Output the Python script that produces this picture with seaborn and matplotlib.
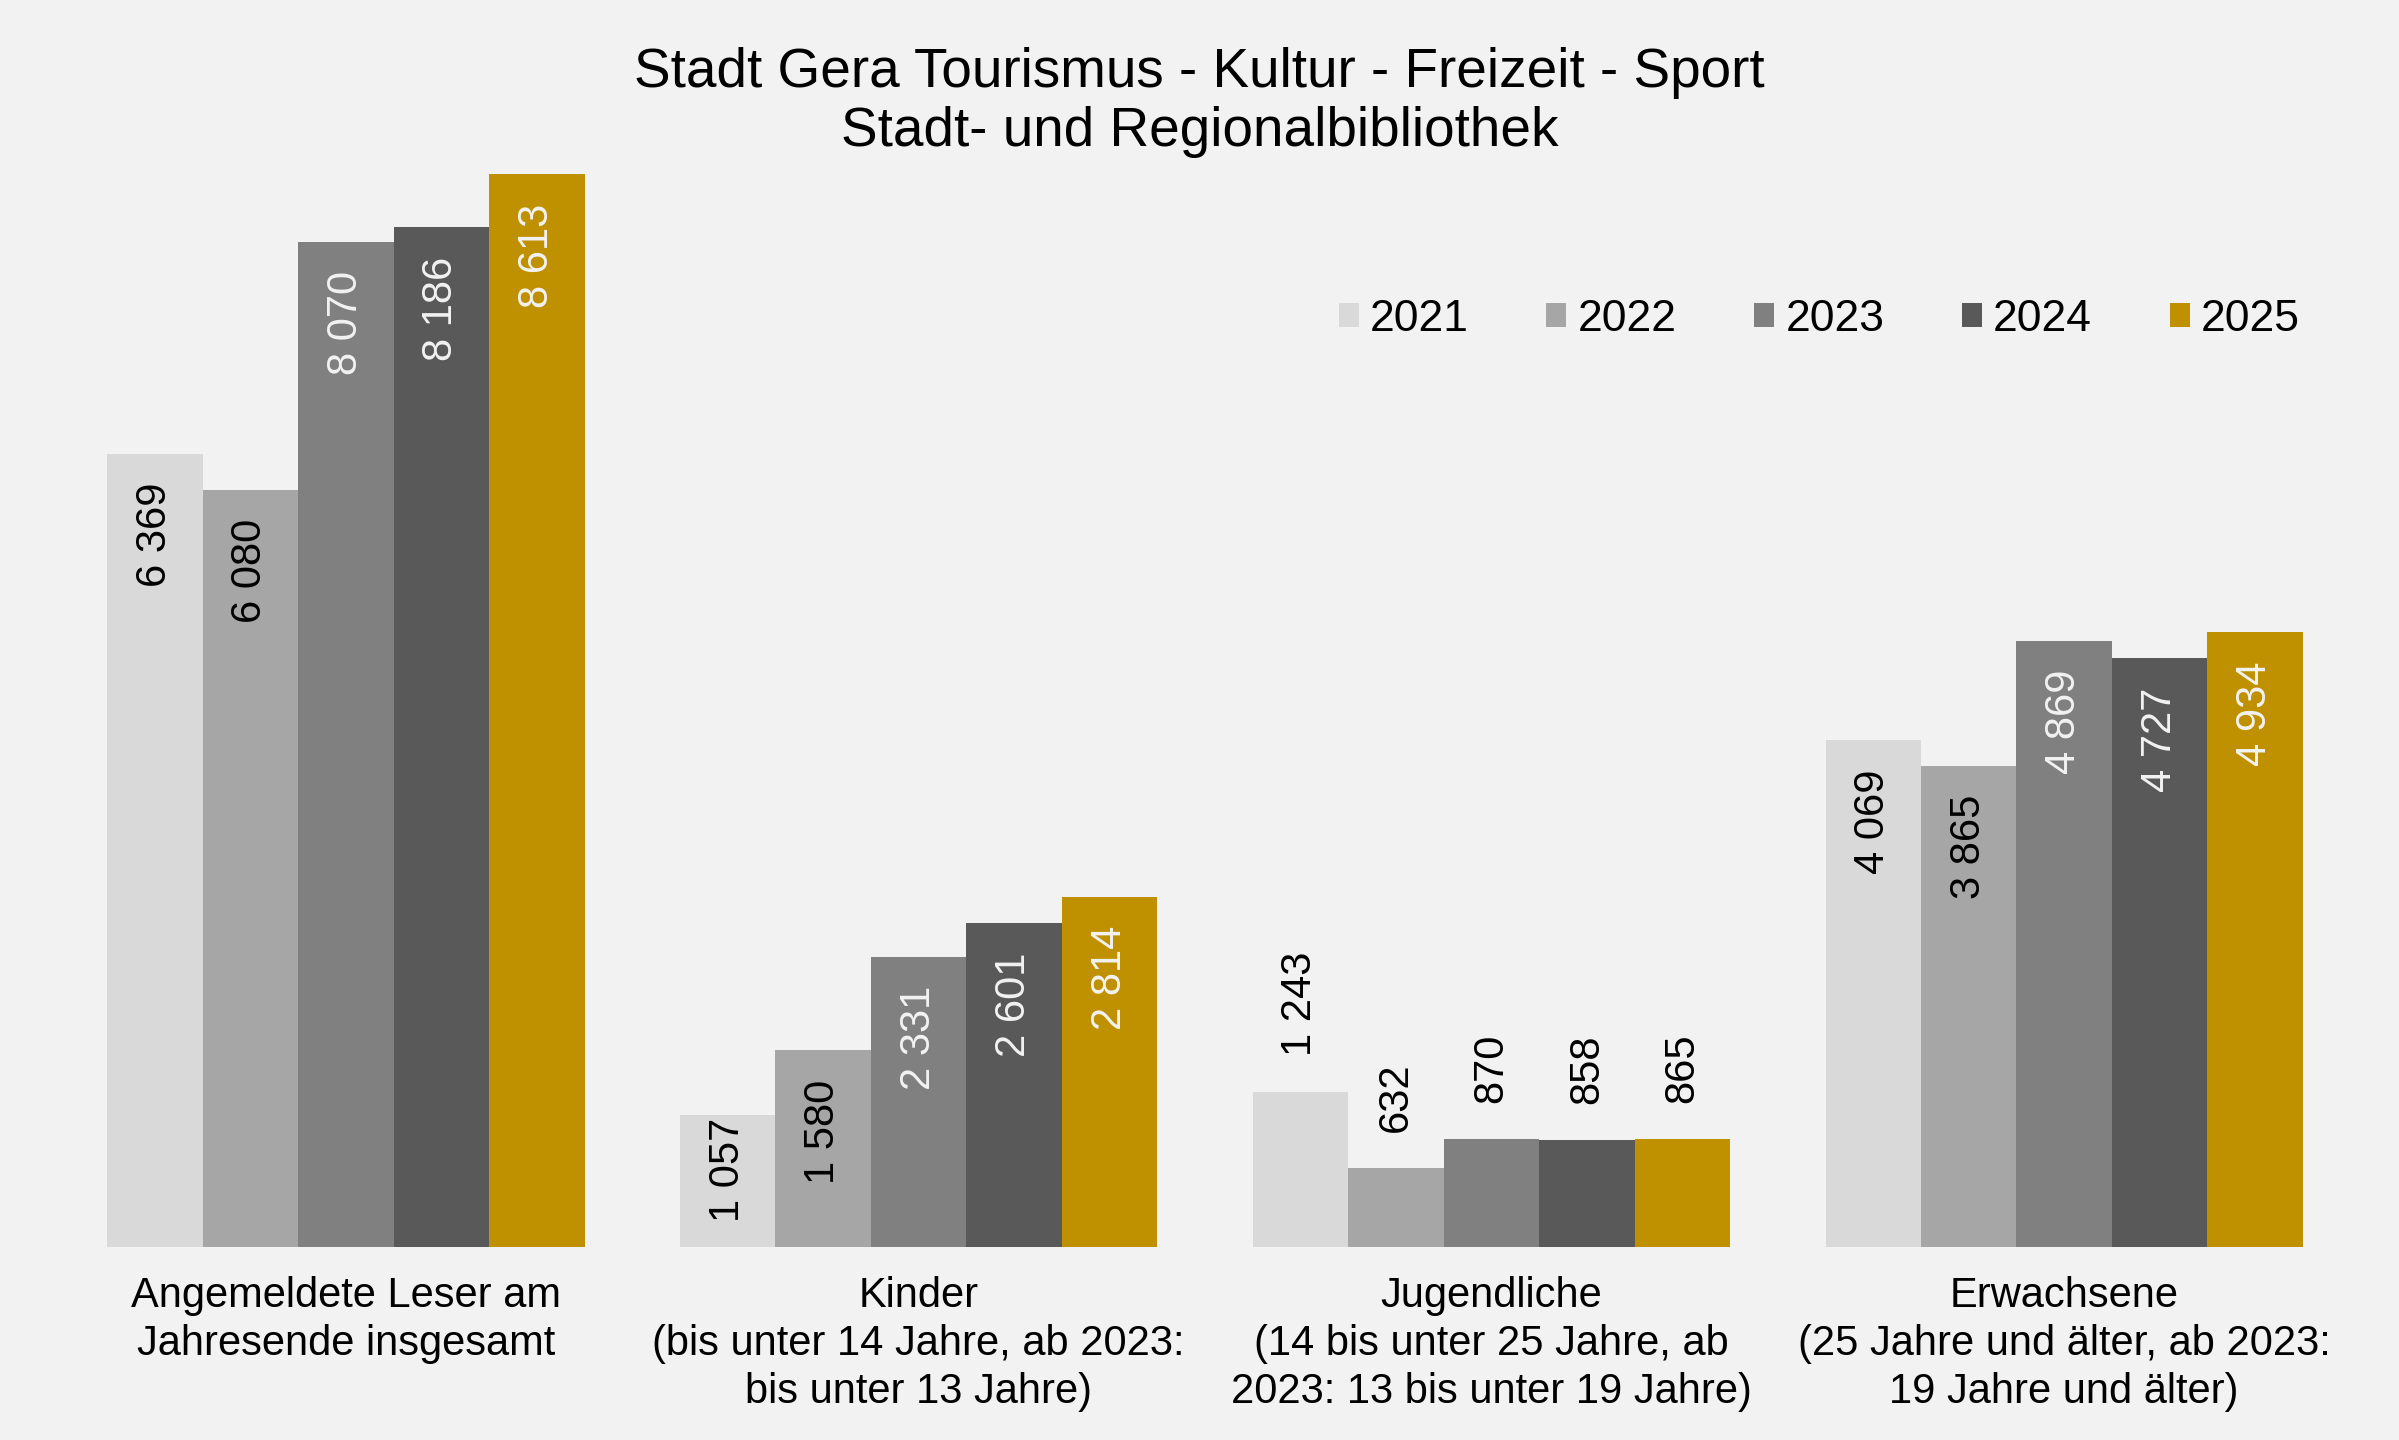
import pandas as pd
import matplotlib.pyplot as plt
import seaborn as sns

# data
categories = [
    "Angemeldete Leser am\nJahresende insgesamt",
    "Kinder\n(bis unter 14 Jahre, ab 2023:\nbis unter 13 Jahre)",
    "Jugendliche\n(14 bis unter 25 Jahre, ab\n2023: 13 bis unter 19 Jahre)",
    "Erwachsene\n(25 Jahre und älter, ab 2023:\n19 Jahre und älter)",
]
years = ["2021", "2022", "2023", "2024", "2025"]
v2021 = [6369, 1057, 1243, 4069]
v2022 = [6080, 1580, 632, 3865]
v2023 = [8070, 2331, 870, 4869]
v2024 = [8186, 2601, 858, 4727]
v2025 = [8613, 2814, 865, 4934]
colors = ["#D9D9D9", "#A6A6A6", "#808080", "#595959", "#BF9000"]
label_colors = ["black", "black", "#F2F2F2", "#F2F2F2", "#F2F2F2"]

rows = []
for y, vals in zip(years, [v2021, v2022, v2023, v2024, v2025]):
    for c, v in zip(categories, vals):
        rows.append({"Kategorie": c, "Jahr": y, "Wert": v})
df = pd.DataFrame(rows)

sns.set_theme(style="white")
plt.rcParams["font.family"] = ["Liberation Sans", "DejaVu Sans"]
plt.rcParams["text.color"] = "black"
plt.rcParams["xtick.color"] = "black"
bg = "#F2F2F2"

fig = plt.figure(figsize=(23.99, 14.4), dpi=100, facecolor=bg)
ax = fig.add_axes([0.0248, 0.134, 0.955, 0.7785])
ax.set_facecolor(bg)

sns.barplot(data=df, x="Kategorie", y="Wert", hue="Jahr", order=categories,
            hue_order=years, palette=dict(zip(years, colors)), width=5 / 6,
            saturation=1, linewidth=0, ax=ax)

ax.set_xlim(-0.5, 3.5)
ax.set_ylim(0, 9000)

# value labels, rotated
pt_per_unit = (ax.transData.transform((0, 1000))[1] - ax.transData.transform((0, 0))[1]) / 1000 * 72 / fig.dpi
for i, cont in enumerate(ax.containers):
    for j, bar in enumerate(cont):
        h = bar.get_height()
        x = bar.get_x() + bar.get_width() / 2
        txt = f"{int(h):,}".replace(",", " ")
        if j == 2:
            ax.annotate(txt, (x, h), xytext=(0, 26), textcoords="offset points",
                        rotation=90, ha="center", va="bottom", fontsize=30, color="black")
        else:
            off = min(21, h * pt_per_unit - 93)
            ax.annotate(txt, (x, h), xytext=(0, -off), textcoords="offset points",
                        rotation=90, ha="center", va="top", fontsize=30,
                        color=label_colors[i])

ax.set_yticks([])
ax.set_xlabel("")
ax.set_ylabel("")
ax.tick_params(axis="x", length=0, pad=21, labelsize=30)
for lbl in ax.get_xticklabels():
    lbl.set_linespacing(1.25)
for s in ax.spines.values():
    s.set_visible(False)

handles, labels = ax.get_legend_handles_labels()
ax.legend(handles, labels, loc="center right", bbox_to_anchor=(0.968, 0.778),
          bbox_transform=fig.transFigure, ncol=5, frameon=False, fontsize=32,
          handlelength=0.45, handleheight=0.45, handletextpad=0.25,
          columnspacing=1.75, borderpad=0)

fig.suptitle("Stadt Gera Tourismus - Kultur - Freizeit - Sport\nStadt- und Regionalbibliothek",
             fontsize=39.5, y=0.929, va="center", linespacing=1.17)

fig.savefig("out.png", dpi=100, facecolor=bg)
